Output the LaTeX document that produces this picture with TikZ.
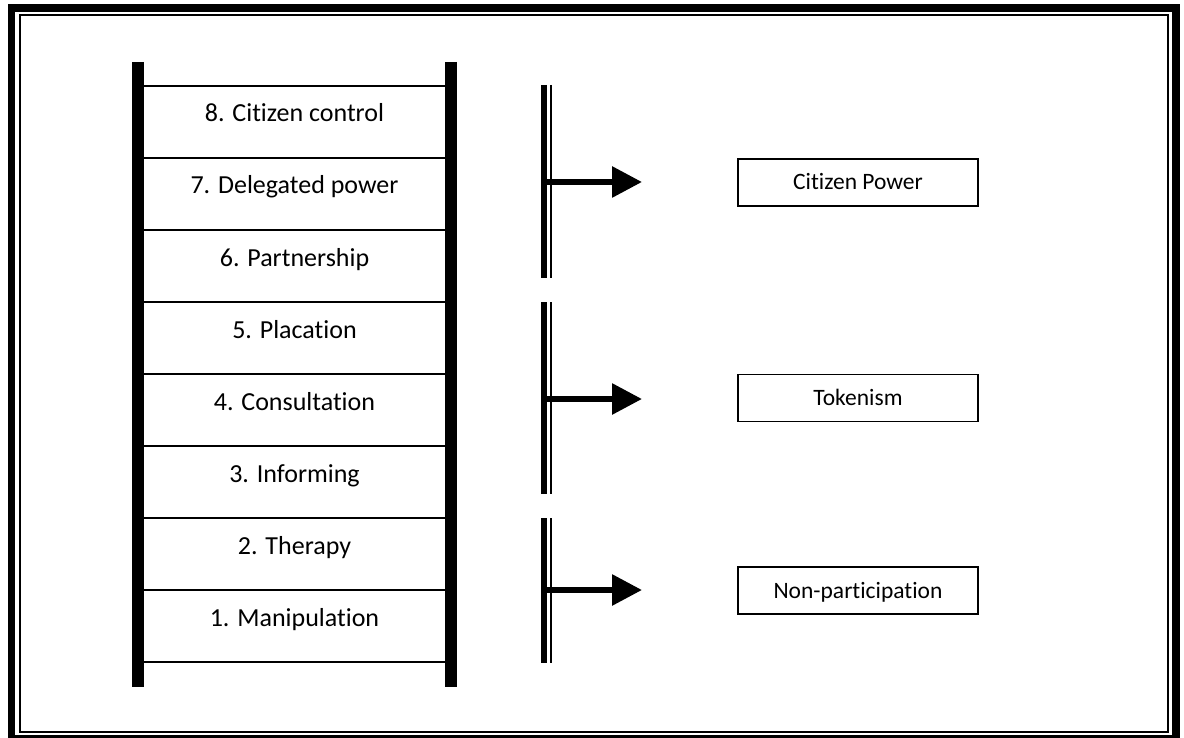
\documentclass[tikz,border=0pt]{standalone}
\usepackage{fontspec}
\setmainfont{Carlito}[Ligatures={NoCommon,NoRare,NoContextual},
  RawFeature={-liga,-clig,-dlig,-calt}]
\usetikzlibrary{arrows.meta}
\begin{document}
\begin{tikzpicture}[x=1pt,y=-1pt,
  rung/.style={draw, line width=1.5pt, minimum width=313pt, minimum height=72pt,
    inner sep=0pt, text height=18pt, text depth=18pt,
    font=\fontsize{26}{30}\selectfont},
  rail/.style={line width=12pt},
  group/.style={draw, line width=1.5pt, minimum width=240pt, minimum height=47pt,
    inner sep=0pt, text height=15pt, text depth=0pt,
    font=\fontsize{23.5}{28}\selectfont},
  heavy/.style={line width=6pt},
  light/.style={line width=2.2pt},
  pointer/.style={line width=6pt, -{Triangle[length=30pt,width=30pt]}}
]
\useasboundingbox (0,0) rectangle (1184,738);

% double frame: thick outside, thin inside
\draw[line width=7.5pt] (11.5,8) rectangle (1176,739);
\draw[line width=2pt] (20,15) rectangle (1168,731.5);

% ladder rungs, top to bottom
\foreach \n/\t [count=\k from 0] in {r8/8. Citizen control, r7/7. Delegated power,
    r6/6. Partnership, r5/5. Placation, r4/4. Consultation, r3/3. Informing,
    r2/2. Therapy, r1/1. Manipulation}
  \node[rung] (\n) at (294.5, 122+72*\k) {\t};

% ladder rails
\draw[rail] (138,62) -- (138,687);
\draw[rail] (451,62) -- (451,687);

% group brackets
\draw[heavy] (544,85) -- (544,278);
\draw[light] (551,85) -- (551,278);
\draw[heavy] (544,302) -- (544,494);
\draw[light] (551,302) -- (551,494);
\draw[heavy] (544,518) -- (544,663);
\draw[light] (551,518) -- (551,663);

% group labels
\node[group] (cp) at (858,182.5) {Citizen Power};
\node[group] (tk) at (858,398) {Tokenism};
\node[group] (np) at (858,590.5) {Non-participation};

% arrows out of the brackets
\coordinate (b1) at (544,182);
\coordinate (e1) at (642,182);
\coordinate (b2) at (544,399);
\coordinate (e2) at (642,399);
\coordinate (b3) at (544,590);
\coordinate (e3) at (642,590);
\draw[pointer] (b1) -- (e1);
\draw[pointer] (b2) -- (e2);
\draw[pointer] (b3) -- (e3);
\end{tikzpicture}
\end{document}
